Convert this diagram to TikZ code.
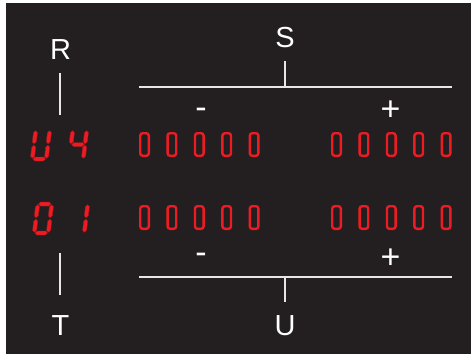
\documentclass[tikz,border=0pt]{standalone}
\usepackage{fontspec}
\setmainfont{Liberation Sans}
\definecolor{bg}{HTML}{231F20}
\definecolor{segred}{HTML}{ED1C24}
\definecolor{segdark}{HTML}{A3161B}
\definecolor{linegray}{HTML}{E6E6E6}
\tikzset{
  lbl/.style={text=white, font=\fontsize{29}{29}\selectfont, inner sep=0pt, anchor=base},
  sgn/.style={text=white, font=\fontsize{34}{34}\selectfont, inner sep=0pt, anchor=base},
  rule/.style={draw=linegray, line width=1.3pt},
  zero/.style={draw=segred, line width=2.4pt, rounded corners=2.5pt, minimum width=8.6pt, minimum height=22.6pt, inner sep=0pt, rectangle},
  seg/.style={fill=segred, draw=segdark, line width=0.4pt},
}
% horizontal segment: x1, x2, y
\newcommand\hsegm[3]{\filldraw[seg] (#1,#3) -- (#1+2,#3-2) -- (#2-2,#3-2) -- (#2,#3) -- (#2-2,#3+2) -- (#1+2,#3+2) -- cycle;}
% vertical segment: x, y1, y2
\newcommand\vsegm[3]{\filldraw[seg] (#1,#2) -- (#1+2,#2+2) -- (#1+2,#3-2) -- (#1,#3) -- (#1-2,#3-2) -- (#1-2,#2+2) -- cycle;}
\newcommand\segA{\hsegm{2.7}{15.3}{2}}
\newcommand\segB{\vsegm{16}{2.7}{15.8}}
\newcommand\segC{\vsegm{16}{17.2}{30.3}}
\newcommand\segD{\hsegm{2.7}{15.3}{31}}
\newcommand\segE{\vsegm{2}{17.2}{30.3}}
\newcommand\segF{\vsegm{2}{2.7}{15.8}}
\newcommand\segG{\hsegm{2.7}{15.3}{16.5}}
\newcommand\sevenseg[3]{\begin{scope}[shift={(#1,#2)}, xslant=0.12]#3\end{scope}}
\begin{document}
\begin{tikzpicture}[x=1pt,y=-1pt]
  \useasboundingbox (0,0) rectangle (471,356);
  \fill[bg] (6,3) rectangle (471,354);
  % labels
  \node[lbl] (R) at (60.5,59) {R};
  \node[lbl] (S) at (285,47.5) {S};
  \node[lbl] (T) at (60.5,335) {T};
  \node[lbl] (U) at (285,335) {U};
  \node[sgn] (m1) at (201,118.2) {-};
  \node[sgn] (p1) at (390.5,120.5) {+};
  \node[sgn] (m2) at (201,263.8) {-};
  \node[sgn] (p2) at (390.5,268) {+};
  % rules
  \coordinate (rt) at (60,73);   \coordinate (rb) at (60,115);
  \coordinate (tt) at (60,253);  \coordinate (tb) at (60,295);
  \coordinate (sl) at (139,87);  \coordinate (sr) at (452,87);
  \coordinate (st) at (285,61);  \coordinate (sm) at (285,87);
  \coordinate (ul) at (139,277); \coordinate (ur) at (452,277);
  \coordinate (um) at (285,277); \coordinate (ub) at (285,302);
  \draw[rule] (rt) -- (rb);
  \draw[rule] (tt) -- (tb);
  \draw[rule] (sl) -- (sr);
  \draw[rule] (st) -- (sm);
  \draw[rule] (ul) -- (ur);
  \draw[rule] (um) -- (ub);
  % seven-segment digits
  \sevenseg{34}{128}{\segB\segC\segD\segE\segF}
  \sevenseg{71}{128}{\segB\segC\segF\segG}
  \sevenseg{36}{202}{\segA\segB\segC\segD\segE\segF}
  \sevenseg{72}{202}{\segB\segC}
  % zero displays
  \foreach \i/\x in {1/144.5,2/171.9,3/199.3,4/226.7,5/254.1,6/336.5,7/363.9,8/391.3,9/418.7,10/446.1} {
    \node[zero] (za\i) at (\x,144.5) {};
    \node[zero] (zb\i) at (\x,217.5) {};
  }
\end{tikzpicture}
\end{document}
